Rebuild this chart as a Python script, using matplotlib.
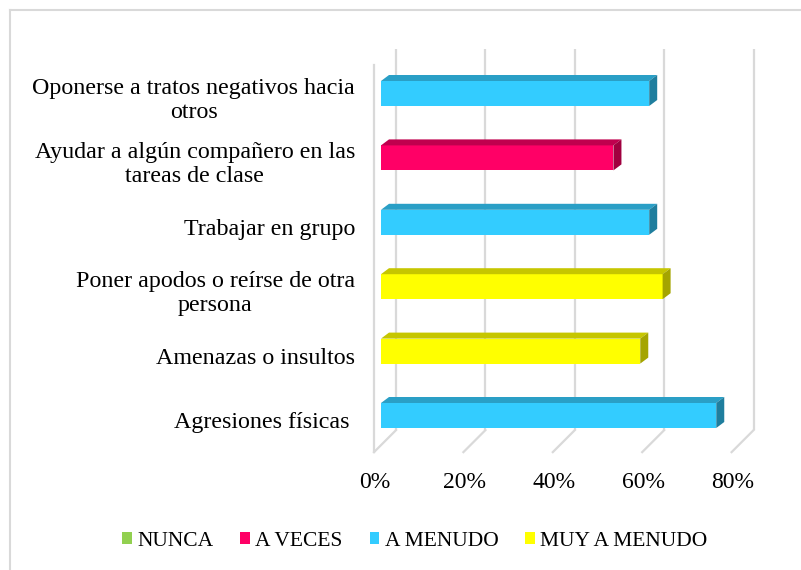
import matplotlib.pyplot as plt
from matplotlib.lines import Line2D
from matplotlib.patches import Patch

plt.rcParams['font.family'] = ['Liberation Serif', 'DejaVu Serif']

# categories, bottom to top
categories = [
    "Agresiones físicas ",
    "Amenazas o insultos",
    "Poner apodos o reírse de otra\npersona",
    "Trabajar en grupo",
    "Ayudar a algún compañero en las\ntareas de clase",
    "Oponerse a tratos negativos hacia\notros",
]
series_names = ["NUNCA", "A VECES", "A MENUDO", "MUY A MENUDO"]
nunca = [0, 0, 0, 0, 0, 0]
a_veces = [0, 0, 0, 0, 52, 0]
a_menudo = [75, 0, 0, 60, 0, 60]
muy_a_menudo = [0, 58, 63, 0, 0, 0]
ticks = [0, 20, 40, 60, 80]
tick_labels = ["0%", "20%", "40%", "60%", "80%"]

front = ["#92D050", "#FF0066", "#33CCFF", "#FFFF00"]
top = ["#75A840", "#C0004E", "#2A9FC6", "#C6C600"]
side = ["#5E8A33", "#A0003F", "#1F7E9E", "#A5A500"]
grid_c = "#D9D9D9"

W, H = 801, 570
fig = plt.figure(figsize=(W / 100, H / 100), dpi=100)

# bar plane: 0% at x=381 px, 4.47 px per %; category i centred at 415.5 - 64.4*i px
px_x = 4.47
px_y = 64.4
left_px, right_px = 381, 381 + 80 * px_x
bot_px, top_px = 415.5 + 0.5 * px_y, 415.5 - 5.5 * px_y
ax = fig.add_axes([left_px / W, (H - bot_px) / H, (right_px - left_px) / W, (bot_px - top_px) / H])
ax.set_xlim(0, 80)
ax.set_ylim(-0.5, 5.5)
ax.axis("off")


def dx(p):
    return p / px_x


def dy(p):
    return p / px_y


floor, wall_top = -0.46, 5.46
# back wall and floor gridlines
for v in ticks:
    ax.plot([v + dx(15), v + dx(15)], [floor + dy(15), wall_top + dy(15)], color=grid_c, lw=1.6,
            solid_capstyle="butt", zorder=1, clip_on=False)
    ax.plot([v - dx(7), v + dx(15)], [floor - dy(7), floor + dy(15)], color=grid_c, lw=1.6, zorder=1,
            clip_on=False)
# left wall front edge
ax.plot([-dx(7), -dx(7)], [floor - dy(7), wall_top - dy(1)], color=grid_c, lw=1.6, zorder=1, clip_on=False)

ypos = list(range(len(categories)))
h = 25 / px_y
bdx, bdy = dx(8), dy(6)
lefts = [0] * len(categories)
handles = []
for k, vals in enumerate([nunca, a_veces, a_menudo, muy_a_menudo]):
    ax.barh(ypos, vals, height=h, left=lefts, color=front[k], zorder=3, clip_on=False)
    for i, v in enumerate(vals):
        if v == 0:
            continue
        x0, x1 = lefts[i], lefts[i] + v
        yt, yb = ypos[i] + h / 2, ypos[i] - h / 2
        ax.fill([x0, x1, x1 + bdx, x0 + bdx], [yt, yt, yt + bdy, yt + bdy], color=top[k], lw=0, zorder=3,
                clip_on=False)
        ax.fill([x1, x1 + bdx, x1 + bdx, x1], [yb, yb + bdy, yt + bdy, yt], color=side[k], lw=0, zorder=3,
                clip_on=False)
    lefts = [a + b for a, b in zip(lefts, vals)]
    handles.append(Patch(facecolor=front[k], label=series_names[k]))

# category labels (aligned with the front plane)
for i, cat in enumerate(categories):
    ax.text(-dx(26), i - dy(7), cat, ha="right", va="center", multialignment="center",
            fontsize=17.3, linespacing=1.2, color="#000000")

# value axis labels
for v, lab in zip(ticks, tick_labels):
    ax.text(v - dx(6), floor - dy(37), lab, ha="center", va="center", fontsize=17)

fig.legend(handles=handles, loc="center", bbox_to_anchor=(0.518, 1 - 541 / H), ncol=4, frameon=False,
           fontsize=15.5, handlelength=0.45, handleheight=0.45, handletextpad=0.25, columnspacing=1.25)

# chart area border (top and left edges visible)
fig.add_artist(Line2D([10 / W, 1], [1 - 10 / H, 1 - 10 / H], color=grid_c, lw=1.5))
fig.add_artist(Line2D([10 / W, 10 / W], [0, 1 - 10 / H], color=grid_c, lw=1.5))

fig.savefig("out.png", dpi=100)
